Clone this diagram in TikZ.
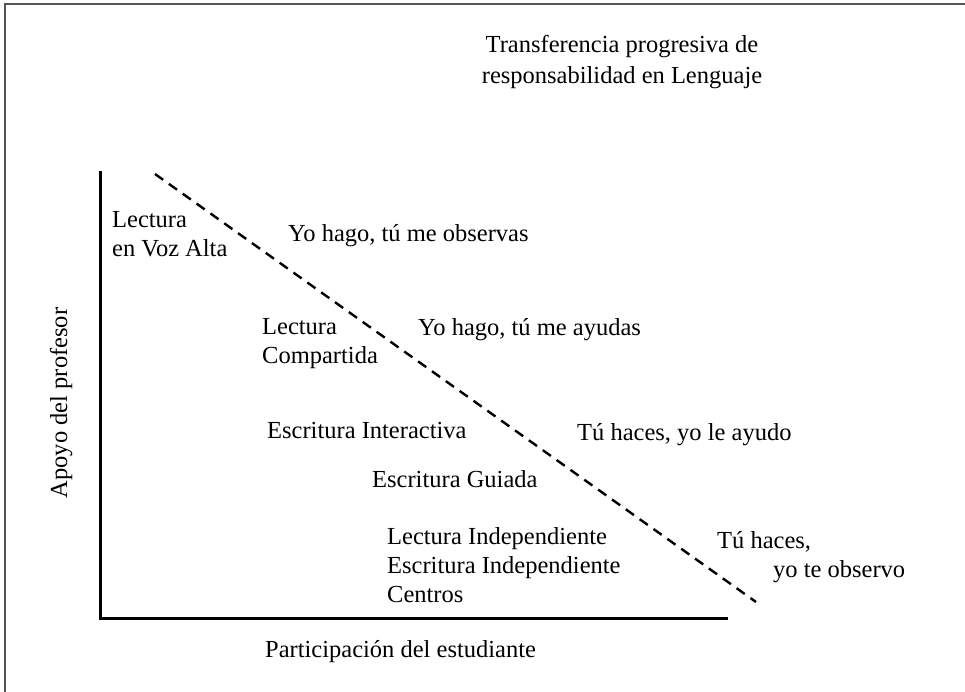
\documentclass[tikz,border=0pt]{standalone}
\usepackage{fontspec}
\setmainfont{Liberation Serif}
\usepackage{tikz}
\usetikzlibrary{positioning}
\definecolor{ink}{HTML}{000000}
\definecolor{frame}{HTML}{555555}
\tikzset{lbl/.style={anchor=base west,align=left,inner sep=0pt,font=\fontsize{24.5}{29}\selectfont,text=ink},axis/.style={line width=3pt,ink},diag/.style={line width=2.4pt,ink,dash pattern=on 10pt off 7pt},border/.style={line width=1.6pt,frame}}
\begin{document}
\begin{tikzpicture}[x=1pt,y=-1pt]
\useasboundingbox (0,0) rectangle (965,692);
\draw[border] (5,692)--(5,4)--(965,4);
% multi-line labels sit on the baseline of their last line
\node[lbl,align=center,anchor=base,font=\fontsize{24.5}{31}\selectfont] (title) at (622,84) {Transferencia progresiva de\\responsabilidad en Lenguaje};
\coordinate (ytop) at (100,171);\coordinate (origin) at (100,618);\coordinate (xend) at (728,618);
\draw[axis] (ytop)--(origin)--(xend);
\coordinate (dstart) at (155,174);\coordinate (dend) at (756,602);
\draw[diag] (dstart)--(dend);
\node[lbl,anchor=base,rotate=90] (ylab) at (67,403) {Apoyo del profesor};
\node[lbl] (xlab) at (265,657) {Participación del estudiante};
\node[lbl] (vozalta) at (112,257) {Lectura\\en Voz Alta};
\node[lbl] (observas) at (288,242) {Yo hago, tú me observas};
\node[lbl] (compartida) at (262,363) {Lectura\\Compartida};
\node[lbl] (ayudas) at (418,335) {Yo hago, tú me ayudas};
\node[lbl] (interactiva) at (267,438) {Escritura Interactiva};
\node[lbl] (ayudo) at (577,440) {Tú haces, yo le ayudo};
\node[lbl] (guiada) at (372,487) {Escritura Guiada};
\node[lbl] (indep) at (387,602) {Lectura Independiente\\Escritura Independiente\\Centros};
\node[lbl] (observo) at (717,577) {Tú haces,\\\hspace*{56pt}yo te observo};
\end{tikzpicture}
\end{document}
